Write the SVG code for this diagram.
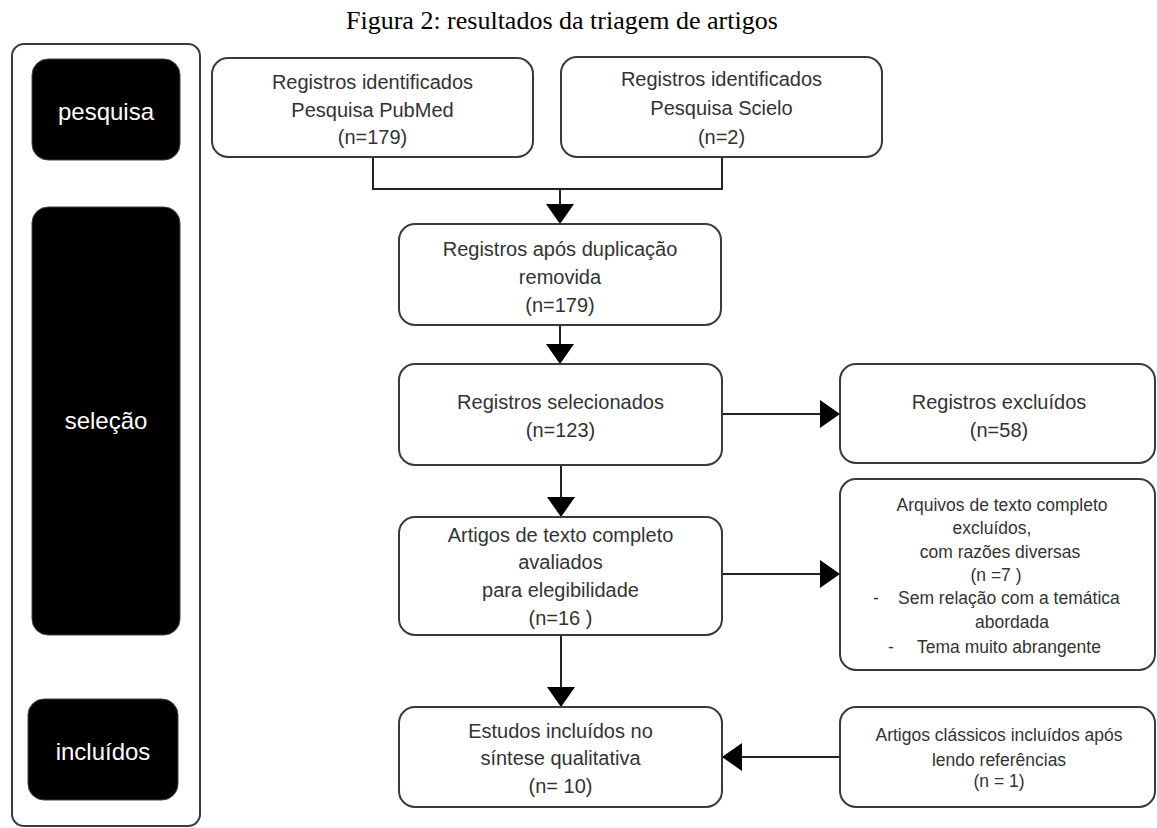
<svg xmlns="http://www.w3.org/2000/svg" width="1157" height="828" viewBox="0 0 1157 828">
<style>
.title{font-family:"Liberation Serif","Times New Roman",serif;font-size:26px;fill:#000}
.box{fill:#fff;stroke:#3a3a3a;stroke-width:2}
.phase{fill:#000;stroke:#444;stroke-width:1}
.lab{font-family:"Liberation Sans",Arial,sans-serif;font-size:24px;fill:#fff;text-anchor:middle}
.t{font-family:"Liberation Sans",Arial,sans-serif;font-size:20px;fill:#333;text-anchor:middle}
.s{font-family:"Liberation Sans",Arial,sans-serif;font-size:17.5px;fill:#333;text-anchor:middle}
.sl{font-family:"Liberation Sans",Arial,sans-serif;font-size:17.5px;fill:#333}
.c{fill:none;stroke:#222;stroke-width:2}
</style>
<defs>
<marker id="ah" markerUnits="userSpaceOnUse" markerWidth="20" markerHeight="28" refX="20" refY="14" orient="auto">
<path d="M0,0 L20,14 L0,28 Z" fill="#000"/>
</marker>
</defs>
<text class="title" x="346" y="29">Figura 2: resultados da triagem de artigos</text>

<g id="phase-panel">
<rect class="box" x="12" y="44" width="188" height="782" rx="12"/>
</g>
<g id="phase-pesquisa">
<rect class="phase" x="32" y="59" width="148" height="101" rx="16"/>
<text class="lab" x="106" y="120">pesquisa</text>
</g>
<g id="phase-selecao">
<rect class="phase" x="32" y="207" width="148" height="428" rx="16"/>
<text class="lab" x="106" y="429">seleção</text>
</g>
<g id="phase-incluidos">
<rect class="phase" x="28" y="699" width="150" height="101" rx="16"/>
<text class="lab" x="103" y="760">incluídos</text>
</g>

<g id="connectors">
<path class="c" d="M373,157 V189 H722 V157"/>
<path class="c" d="M560,189 V224" marker-end="url(#ah)"/>
<path class="c" d="M560,325 V364" marker-end="url(#ah)"/>
<path class="c" d="M561,465 V517" marker-end="url(#ah)"/>
<path class="c" d="M561,635 V707" marker-end="url(#ah)"/>
<path class="c" d="M722,414 H840" marker-end="url(#ah)"/>
<path class="c" d="M722,574 H840" marker-end="url(#ah)"/>
<path class="c" d="M840,757 H722" marker-end="url(#ah)"/>
</g>

<g id="pubmed">
<rect class="box" x="212" y="58" width="321" height="99" rx="16"/>
<text class="t" x="372.5" y="89">Registros identificados</text>
<text class="t" x="372.5" y="117">Pesquisa PubMed</text>
<text class="t" x="372.5" y="144">(n=179)</text>
</g>
<g id="scielo">
<rect class="box" x="561" y="57" width="321" height="100" rx="16"/>
<text class="t" x="721.5" y="86">Registros identificados</text>
<text class="t" x="721.5" y="115">Pesquisa Scielo</text>
<text class="t" x="721.5" y="144">(n=2)</text>
</g>
<g id="duplicacao">
<rect class="box" x="399" y="224" width="322" height="101" rx="16"/>
<text class="t" x="560" y="256">Registros após duplicação</text>
<text class="t" x="560" y="284">removida</text>
<text class="t" x="560" y="312">(n=179)</text>
</g>
<g id="selecionados">
<rect class="box" x="399" y="364" width="323" height="101" rx="16"/>
<text class="t" x="560.5" y="409">Registros selecionados</text>
<text class="t" x="560.5" y="437">(n=123)</text>
</g>
<g id="excluidos">
<rect class="box" x="840" y="364" width="315" height="99" rx="16"/>
<text class="t" x="999" y="409">Registros excluídos</text>
<text class="t" x="999" y="437">(n=58)</text>
</g>
<g id="artigos">
<rect class="box" x="399" y="517" width="323" height="118" rx="16"/>
<text class="t" x="560.5" y="542">Artigos de texto completo</text>
<text class="t" x="560.5" y="569">avaliados</text>
<text class="t" x="560.5" y="597">para elegibilidade</text>
<text class="t" x="560.5" y="625">(n=16 )</text>
</g>
<g id="arquivos">
<rect class="box" x="840" y="479" width="315" height="191" rx="16"/>
<text class="s" x="1002" y="511">Arquivos de texto completo</text>
<text class="s" x="992" y="534">excluídos,</text>
<text class="s" x="1000" y="558">com razões diversas</text>
<text class="s" x="996" y="581">(n =7 )</text>
<text class="sl" x="873" y="604">-</text>
<text class="sl" x="898" y="604">Sem relação com a temática</text>
<text class="s" x="1012" y="628">abordada</text>
<text class="sl" x="888" y="653">-</text>
<text class="sl" x="917" y="653">Tema muito abrangente</text>
</g>
<g id="estudos">
<rect class="box" x="399" y="707" width="323" height="100" rx="16"/>
<text class="t" x="560.5" y="738">Estudos incluídos no</text>
<text class="t" x="560.5" y="765">síntese qualitativa</text>
<text class="t" x="560.5" y="793">(n= 10)</text>
</g>
<g id="classicos">
<rect class="box" x="840" y="707" width="315" height="100" rx="16"/>
<text class="s" x="999" y="741">Artigos clássicos incluídos após</text>
<text class="s" x="999" y="766">lendo referências</text>
<text class="s" x="999" y="787">(n = 1)</text>
</g>
</svg>
